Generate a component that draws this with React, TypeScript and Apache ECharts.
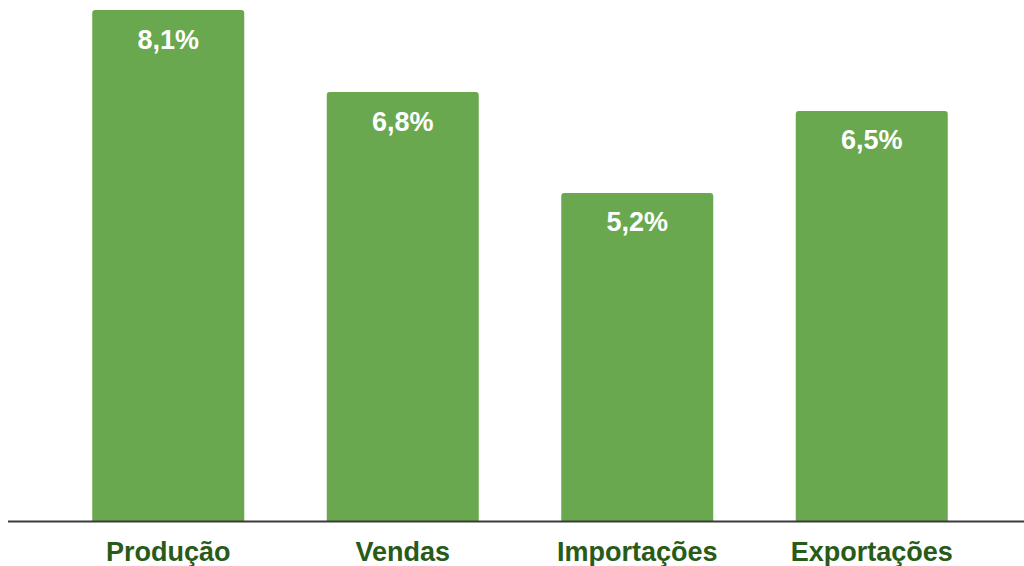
import React, { useEffect, useRef } from "react";
import * as echarts from "echarts";

const categories = ["Produção", "Vendas", "Importações", "Exportações"];
const values = [8.1, 6.8, 5.2, 6.5];

export default function App() {
  const ref = useRef<HTMLDivElement>(null);
  useEffect(() => {
    if (!ref.current) return;
    const chart = echarts.init(ref.current, null, { renderer: "svg" });
    chart.setOption({
      animation: false,
      backgroundColor: "#ffffff",
      grid: { left: 51, right: 35, top: 10, bottom: 45, containLabel: false },
      xAxis: {
        type: "category",
        data: categories,
        axisLine: { show: false },
        axisTick: { show: false },
        axisLabel: {
          color: "#285a18",
          fontSize: 27,
          fontWeight: "bold",
          fontFamily: "Liberation Sans, Arial, sans-serif",
          margin: 17,
        },
      },
      yAxis: {
        type: "value",
        min: 0,
        max: 8.1,
        show: false,
        splitLine: { show: false },
      },
      graphic: [
        {
          type: "line",
          shape: { x1: 8, y1: 521.5, x2: 1024, y2: 521.5 },
          style: { stroke: "#3a3a3a", lineWidth: 2 },
          z: 100,
        },
      ],
      series: [
        {
          type: "bar",
          data: values,
          barWidth: 152,
          itemStyle: { color: "#6aa84f", borderRadius: [3, 3, 0, 0] },
          label: {
            show: true,
            position: "insideTop",
            distance: 16,
            color: "#ffffff",
            fontSize: 27,
            fontWeight: "bold",
            fontFamily: "Liberation Sans, Arial, sans-serif",
            formatter: (p: any) => String(p.value).replace(".", ",") + "%",
          },
        },
      ],
    });
    return () => chart.dispose();
  }, []);
  return (
    <div
      ref={ref}
      style={{ position: "absolute", left: 0, top: 0, width: 1024, height: 566 }}
    />
  );
}
